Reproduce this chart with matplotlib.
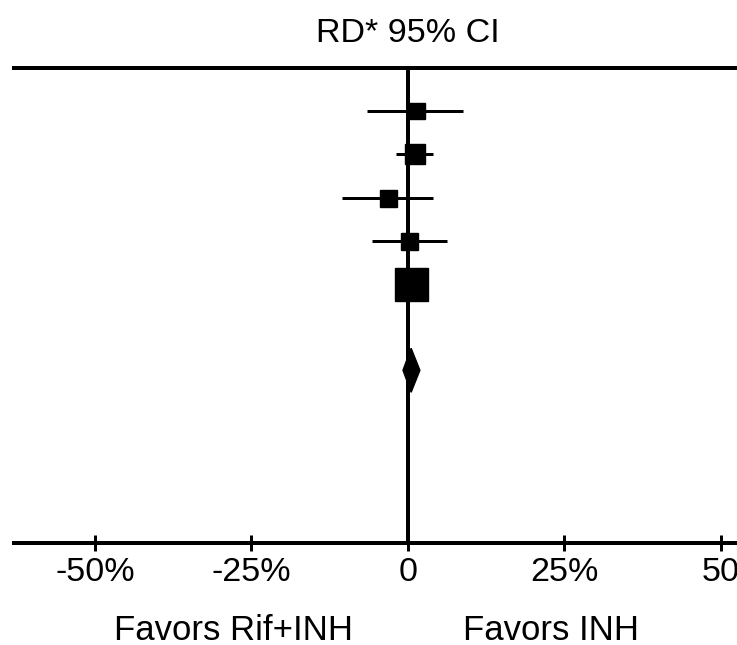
import matplotlib
matplotlib.use("Agg")
import matplotlib.pyplot as plt
from matplotlib.patches import Polygon

plt.rcParams['font.family'] = ['Liberation Sans', 'DejaVu Sans']

# ---- data ----
rows = [1, 2, 3, 4, 5]
rd = [1.4, 1.1, -3.2, 0.2, 0.5]
ci_low = [-6.5, -1.9, -10.5, -5.7, -1.5]
ci_high = [8.8, 4.0, 4.0, 6.2, 2.5]
weights = [16, 20, 17, 17, 33]          # square sizes (px) ~ study weight
pooled_row = 7
pooled_rd = 0.5
pooled_low = -0.8
pooled_high = 1.9
xticks = [-50, -25, 0, 25, 50]
xticklabels = ["-50%", "-25%", "0", "25%", "50"]
title = "RD* 95% CI"
left_label = "Favors Rif+INH"
right_label = "Favors INH"

W, H, DPI = 737, 645, 100
fig = plt.figure(figsize=(W / DPI, H / DPI), dpi=DPI)
ax_left, ax_right, ax_top, ax_bot = 14, 737, 68, 543
ax = fig.add_axes([ax_left / W, 1 - ax_bot / H, (ax_right - ax_left) / W, (ax_bot - ax_top) / H])

px_per_pct = (722 - 96) / 100.0
x0 = 408
ax.set_xlim((ax_left - x0) / px_per_pct, (ax_right - x0) / px_per_pct)
ax.set_ylim(11, 0)

lw_pt = 4 * 72 / DPI
ax.axvline(0, color='black', lw=lw_pt, zorder=1)

for y, m, lo, hi, s in zip(rows, rd, ci_low, ci_high, weights):
    ax.plot([lo, hi], [y, y], color='black', lw=3 * 72 / DPI, solid_capstyle='butt', zorder=2)
    ax.plot([m], [y], marker='s', color='black', markersize=s * 72 / DPI, zorder=3)

half_h = 22 / ((ax_bot - ax_top) / 11.0)
diamond = Polygon([[pooled_low, pooled_row], [pooled_rd, pooled_row - half_h],
                   [pooled_high, pooled_row], [pooled_rd, pooled_row + half_h]],
                  closed=True, color='black', zorder=3)
ax.add_patch(diamond)

for side in ['left', 'right']:
    ax.spines[side].set_visible(False)
for side in ['top', 'bottom']:
    ax.spines[side].set_linewidth(lw_pt)
ax.set_yticks([])
ax.set_xticks(xticks)
ax.set_xticklabels(xticklabels)
ax.tick_params(axis='x', direction='inout', length=16 * 72 / DPI, width=3 * 72 / DPI,
               labelsize=24.5, pad=4)

fig.text(x0 / W, 1 - 42 / H, title, ha='center', va='baseline', fontsize=24.5)
fig.text(233 / W, 1 - 640 / H, left_label, ha='center', va='baseline', fontsize=25)
fig.text(551 / W, 1 - 640 / H, right_label, ha='center', va='baseline', fontsize=25)

fig.savefig("out.png", dpi=DPI)
